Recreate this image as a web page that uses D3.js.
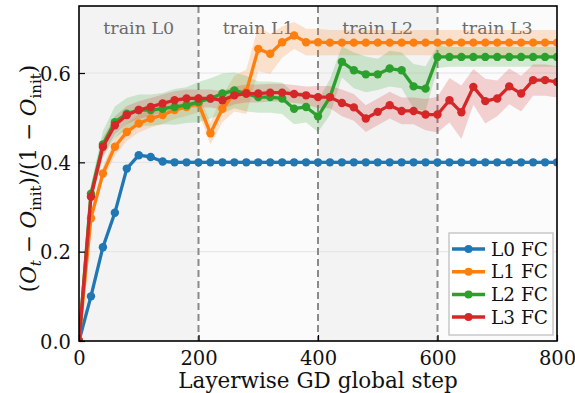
<!DOCTYPE html>
<html>
<head>
<meta charset="utf-8">
<script src="https://cdn.jsdelivr.net/npm/d3@7"></script>
<style>
  body { margin: 0; background: #fff; }
  svg { display: block; font-family: "DejaVu Serif", serif; }
</style>
</head>
<body>
<svg></svg>
<script>
// Layerwise GD: normalized objective per layer
const width = 575;
const height = 393;

const steps = [0, 20, 40, 60, 80, 100, 120, 140, 160, 180, 200, 220, 240, 260, 280, 300, 320, 340, 360, 380,
    400, 420, 440, 460, 480, 500, 520, 540, 560, 580, 600, 620, 640, 660, 680, 700, 720, 740, 760, 780, 800];

const l0Mean = [0, 0.10, 0.21, 0.287, 0.386, 0.416, 0.412, 0.402, 0.40, 0.40, 0.40, 0.40, 0.40, 0.40, 0.40, 0.40, 0.40, 0.40, 0.40, 0.40,
    0.40, 0.40, 0.40, 0.40, 0.40, 0.40, 0.40, 0.40, 0.40, 0.40, 0.40, 0.40, 0.40, 0.40, 0.40, 0.40, 0.40, 0.40, 0.40, 0.40, 0.40];
const l1Mean = [0, 0.275, 0.375, 0.435, 0.468, 0.487, 0.498, 0.506, 0.517, 0.524, 0.532, 0.465, 0.52, 0.554, 0.558, 0.654, 0.643, 0.669, 0.684, 0.669,
    0.669, 0.668, 0.668, 0.668, 0.668, 0.668, 0.668, 0.668, 0.668, 0.668, 0.668, 0.668, 0.668, 0.668, 0.668, 0.668, 0.668, 0.668, 0.668, 0.668, 0.668];
const l2Mean = [0, 0.33, 0.44, 0.49, 0.509, 0.517, 0.517, 0.52, 0.524, 0.528, 0.535, 0.543, 0.554, 0.561, 0.554, 0.546, 0.546, 0.543, 0.52, 0.524,
    0.503, 0.546, 0.625, 0.606, 0.597, 0.597, 0.61, 0.606, 0.57, 0.565, 0.636, 0.636, 0.636, 0.636, 0.636, 0.636, 0.636, 0.636, 0.636, 0.636, 0.636];
const l3Mean = [0, 0.323, 0.435, 0.483, 0.506, 0.517, 0.524, 0.532, 0.539, 0.543, 0.543, 0.543, 0.539, 0.55, 0.554, 0.554, 0.556, 0.556, 0.553, 0.55,
    0.546, 0.546, 0.533, 0.523, 0.498, 0.513, 0.528, 0.515, 0.515, 0.507, 0.507, 0.539, 0.512, 0.569, 0.537, 0.543, 0.57, 0.554, 0.584, 0.584, 0.58];

// spread (std) bands
const l0Std = [0, 0.004, 0.004, 0.004, 0.004, 0.004, 0.004, 0.004, 0.004, 0.004, 0.004, 0.004, 0.004, 0.004, 0.004, 0.004, 0.004, 0.004, 0.004, 0.004,
    0.004, 0.004, 0.004, 0.004, 0.004, 0.004, 0.004, 0.004, 0.004, 0.004, 0.004, 0.004, 0.004, 0.004, 0.004, 0.004, 0.004, 0.004, 0.004, 0.004, 0.004];
const l1Std = [0, 0.01, 0.015, 0.02, 0.02, 0.02, 0.02, 0.02, 0.02, 0.02, 0.02, 0.025, 0.03, 0.04, 0.05, 0.05, 0.045, 0.035, 0.03, 0.03,
    0.03, 0.028, 0.028, 0.028, 0.028, 0.028, 0.028, 0.028, 0.028, 0.028, 0.028, 0.028, 0.028, 0.028, 0.028, 0.028, 0.028, 0.028, 0.028, 0.028, 0.028];
const l2Std = [0, 0.02, 0.03, 0.035, 0.035, 0.035, 0.035, 0.035, 0.04, 0.04, 0.045, 0.045, 0.045, 0.04, 0.04, 0.035, 0.035, 0.035, 0.035, 0.035,
    0.035, 0.04, 0.035, 0.04, 0.04, 0.035, 0.04, 0.04, 0.05, 0.05, 0.025, 0.022, 0.022, 0.022, 0.022, 0.022, 0.022, 0.022, 0.022, 0.022, 0.022];
const l3Std = [0, 0.015, 0.02, 0.02, 0.02, 0.02, 0.02, 0.02, 0.02, 0.02, 0.02, 0.02, 0.02, 0.02, 0.02, 0.02, 0.02, 0.02, 0.02, 0.02,
    0.025, 0.025, 0.03, 0.03, 0.03, 0.03, 0.03, 0.03, 0.03, 0.035, 0.04, 0.05, 0.06, 0.04, 0.05, 0.04, 0.04, 0.04, 0.035, 0.035, 0.035];

const seriesNames = ["L0 FC", "L1 FC", "L2 FC", "L3 FC"];
const seriesColors = ["#1f77b4", "#ff7f0e", "#2ca02c", "#d62728"];
const phaseLabels = ["train L0", "train L1", "train L2", "train L3"];
const phaseStarts = [0, 200, 400, 600];
const xTicks = [0, 200, 400, 600, 800];
const yTicks = [0.0, 0.2, 0.4, 0.6];

const series = [
    { name: seriesNames[0], color: seriesColors[0], mean: l0Mean, std: l0Std },
    { name: seriesNames[1], color: seriesColors[1], mean: l1Mean, std: l1Std },
    { name: seriesNames[2], color: seriesColors[2], mean: l2Mean, std: l2Std },
    { name: seriesNames[3], color: seriesColors[3], mean: l3Mean, std: l3Std }
];

const margin = { top: 6, right: 18, bottom: 52, left: 79 };
const innerW = width - margin.left - margin.right;
const innerH = height - margin.top - margin.bottom;

const svg = d3.select("svg")
    .attr("width", width)
    .attr("height", height)
    .attr("viewBox", `0 0 ${width} ${height}`);

const g = svg.append("g")
    .attr("transform", `translate(${margin.left},${margin.top})`);

const x = d3.scaleLinear().domain([0, 800]).range([0, innerW]);
const y = d3.scaleLinear().domain([0, 0.75]).range([innerH, 0]);

svg.append("defs").append("clipPath").attr("id", "clip")
    .append("rect").attr("width", innerW).attr("height", innerH);

// alternating phase backgrounds
g.append("g").selectAll("rect")
    .data(phaseStarts)
    .join("rect")
    .attr("x", d => x(d))
    .attr("y", 0)
    .attr("width", d => x(d + 200) - x(d))
    .attr("height", innerH)
    .attr("fill", (d, i) => i % 2 === 0 ? "#f3f3f3" : "#fbfbfb");

// faint grid
g.append("g").selectAll("line")
    .data(yTicks.slice(1))
    .join("line")
    .attr("x1", 0).attr("x2", innerW)
    .attr("y1", d => y(d)).attr("y2", d => y(d))
    .attr("stroke", "#e4e4e4")
    .attr("stroke-width", 1);

// phase boundaries
g.append("g").selectAll("line")
    .data(phaseStarts.slice(1))
    .join("line")
    .attr("x1", d => x(d)).attr("x2", d => x(d))
    .attr("y1", 0).attr("y2", innerH)
    .attr("stroke", "#8a8a8a")
    .attr("stroke-width", 2)
    .attr("stroke-dasharray", "7,4");

// phase labels
g.append("g").selectAll("text")
    .data(phaseLabels)
    .join("text")
    .attr("x", (d, i) => x(phaseStarts[i] + 100))
    .attr("y", 28)
    .attr("text-anchor", "middle")
    .attr("font-size", 17.5)
    .attr("fill", "#6b6b6b")
    .text(d => d);

const plot = g.append("g").attr("clip-path", "url(#clip)");

const area = d3.area()
    .x((d, i) => x(steps[i]))
    .y0(d => y(d[0]))
    .y1(d => y(d[1]));

const line = d3.line()
    .x((d, i) => x(steps[i]))
    .y(d => y(d));

// bands
series.forEach(s => {
    plot.append("path")
        .datum(s.mean.map((m, i) => [m - s.std[i], m + s.std[i]]))
        .attr("d", area)
        .attr("fill", s.color)
        .attr("fill-opacity", 0.2);
});

// lines + markers
series.forEach(s => {
    plot.append("path")
        .datum(s.mean)
        .attr("d", line)
        .attr("fill", "none")
        .attr("stroke", s.color)
        .attr("stroke-width", 3.3)
        .attr("stroke-linejoin", "round");
    plot.append("g").selectAll("circle")
        .data(s.mean)
        .join("circle")
        .attr("cx", (d, i) => x(steps[i]))
        .attr("cy", d => y(d))
        .attr("r", 4.2)
        .attr("fill", s.color);
});

// axes with inward ticks
const xAxis = g.append("g")
    .attr("transform", `translate(0,${innerH})`)
    .call(d3.axisBottom(x).tickValues(xTicks).tickSizeInner(-6).tickSizeOuter(0).tickPadding(10));
const yAxis = g.append("g")
    .call(d3.axisLeft(y).tickValues(yTicks).tickFormat(d3.format(".1f")).tickSizeInner(-6).tickSizeOuter(0).tickPadding(8));

[xAxis, yAxis].forEach(a => {
    a.select(".domain").remove();
    a.selectAll(".tick line").attr("stroke", "#000").attr("stroke-width", 1.2);
    a.selectAll(".tick text")
        .attr("font-family", "DejaVu Serif, serif")
        .attr("font-size", 19.5)
        .attr("fill", "#111");
});
yAxis.selectAll(".tick text").attr("dy", "0.36em");

// frame
g.append("rect")
    .attr("width", innerW)
    .attr("height", innerH)
    .attr("fill", "none")
    .attr("stroke", "#000")
    .attr("stroke-width", 1.6);

// legend
const legend = g.append("g")
    .attr("transform", `translate(${innerW - 108},${innerH - 108})`);
legend.append("rect")
    .attr("width", 104)
    .attr("height", 102)
    .attr("fill", "#fff")
    .attr("stroke", "#c8c8c8")
    .attr("stroke-width", 1.5);
series.forEach((s, i) => {
    const row = legend.append("g").attr("transform", `translate(0,${16 + i * 22.7})`);
    row.append("line")
        .attr("x1", 3).attr("x2", 36)
        .attr("stroke", s.color).attr("stroke-width", 3.5);
    row.append("circle").attr("cx", 19.5).attr("r", 4).attr("fill", s.color);
    row.append("text")
        .attr("x", 42)
        .attr("y", 6.5)
        .attr("font-size", 18.5)
        .attr("fill", "#111")
        .text(s.name);
});

// x label
svg.append("text")
    .attr("x", margin.left + innerW / 2)
    .attr("y", 388)
    .attr("text-anchor", "middle")
    .attr("font-size", 21.5)
    .attr("fill", "#111")
    .text("Layerwise GD global step");

// y label with subscripts
const yl = svg.append("text")
    .attr("transform", `translate(36,${margin.top + innerH / 2 + 5}) rotate(-90)`)
    .attr("text-anchor", "middle")
    .attr("font-size", 21.5)
    .attr("fill", "#111");
const parts = [
    ["(", null], ["O", "it"], ["t", "sub-it"], [" − ", null], ["O", "it"], ["init", "sub"],
    [")/(1 − ", null], ["O", "it"], ["init", "sub"], [")", null]
];
let shifted = false;
parts.forEach(([t, kind]) => {
    const ts = yl.append("tspan").text(t);
    const isSub = kind === "sub" || kind === "sub-it";
    if (kind === "it" || kind === "sub-it") ts.attr("font-style", "italic");
    if (isSub) ts.attr("font-size", 15);
    if (isSub && !shifted) { ts.attr("dy", 4.5); shifted = true; }
    else if (!isSub && shifted) { ts.attr("dy", -4.5); shifted = false; }
});
</script>
</body>
</html>
